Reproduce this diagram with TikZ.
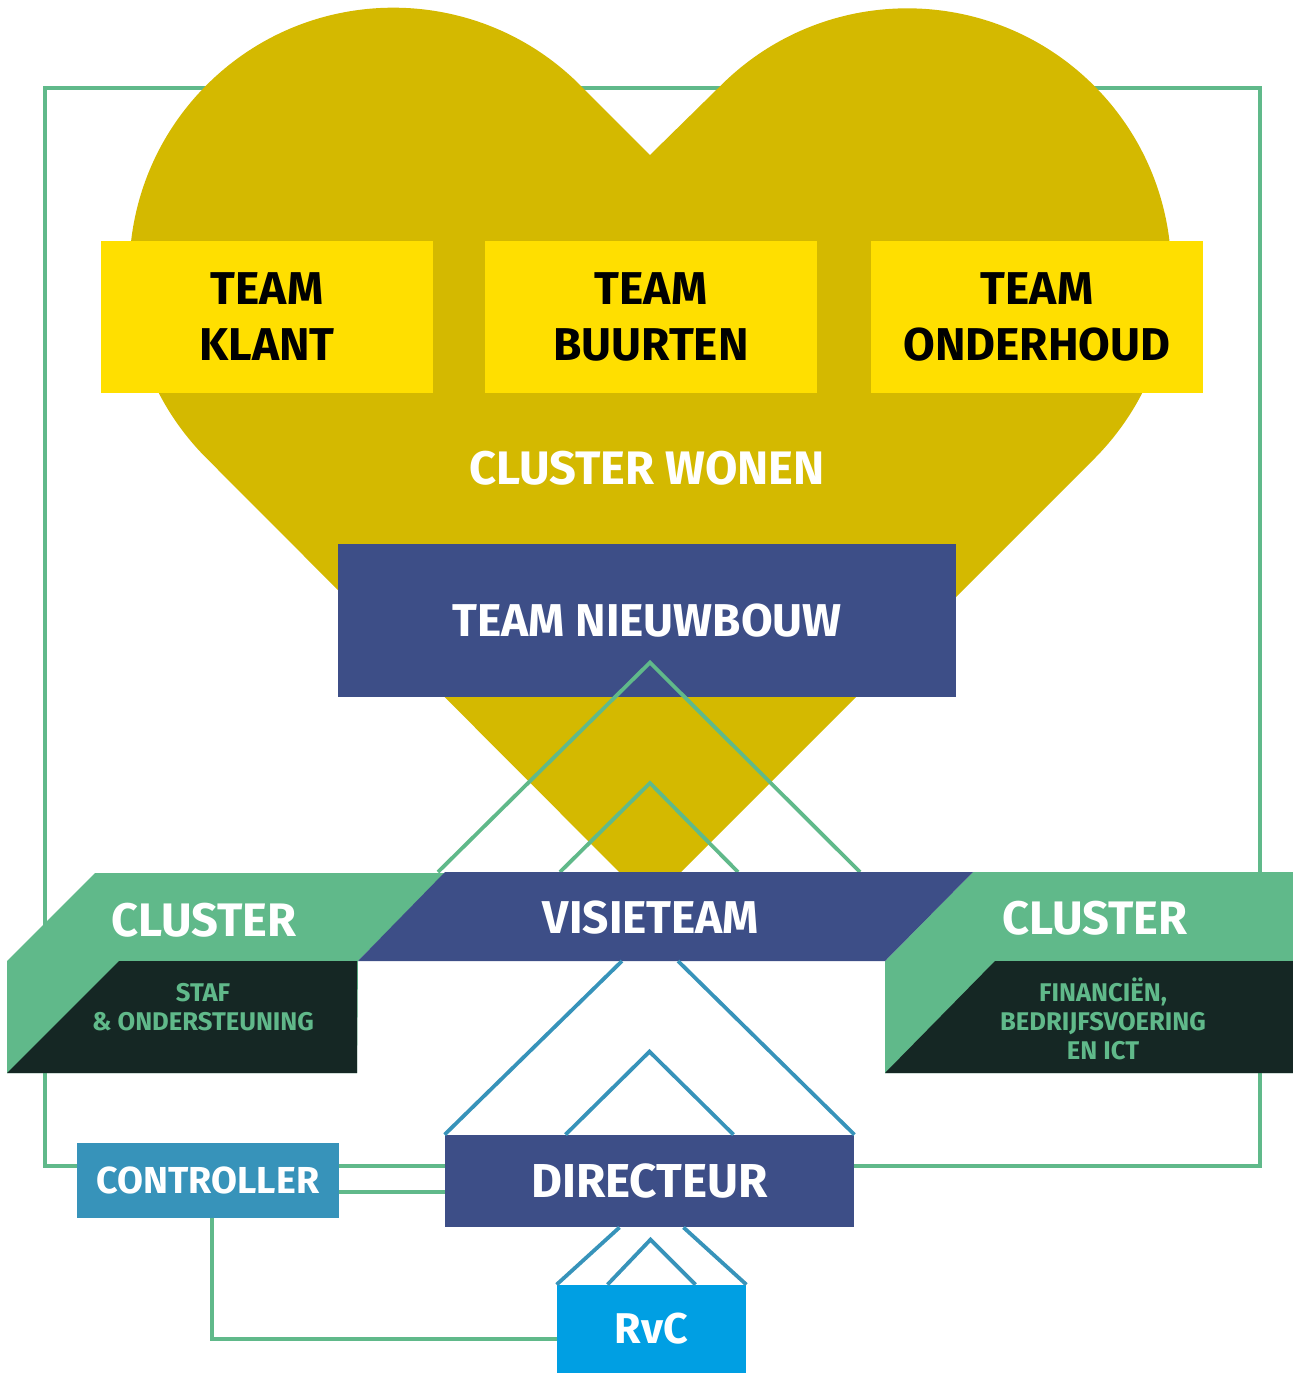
\documentclass[tikz,border=0pt]{standalone}
\usepackage{fontspec}
\setmainfont{Fira Sans}
\definecolor{heartyellow}{RGB}{212,185,0}
\definecolor{teamyellow}{RGB}{255,223,0}
\definecolor{navy}{RGB}{61,78,135}
\definecolor{clustergreen}{RGB}{96,185,138}
\definecolor{darkgreen}{RGB}{21,39,36}
\definecolor{lineblue}{RGB}{55,147,186}
\definecolor{rvcblue}{RGB}{0,159,227}
\tikzset{
  box/.style={rectangle, inner sep=0pt, align=center},
  teambox/.style={box, fill=teamyellow, text=black, minimum width=166pt, minimum height=76pt,
    font=\fontsize{23}{28}\selectfont\bfseries},
  navybox/.style={box, fill=navy, text=white, font=\fontsize{23}{28}\selectfont\bfseries},
  headtxt/.style={text=white, font=\fontsize{23.5}{28}\selectfont\bfseries},
  subtxt/.style={align=center, text=clustergreen, font=\fontsize{12.8}{14.5}\selectfont\bfseries},
  greenlink/.style={draw=clustergreen, line width=1.9pt},
  bluelink/.style={draw=lineblue, line width=1.9pt},
}

\begin{document}
\begin{tikzpicture}[x=0.5pt,y=-0.5pt]
\useasboundingbox (0,0) rectangle (1293,1373);

% bottom row boxes
\node[navybox, minimum width=204.5pt, minimum height=46pt, font=\fontsize{23.8}{28}\selectfont\bfseries] (directeur) at (649.5,1181) {DIRECTEUR};
\node[box, fill=lineblue, text=white, minimum width=131pt, minimum height=37.5pt, font=\fontsize{18.8}{24}\selectfont\bfseries] (controller) at (208,1180.5) {CONTROLLER};
\node[box, fill=rvcblue, text=white, minimum width=94.5pt, minimum height=44pt, font=\fontsize{21.5}{24}\selectfont\bfseries] (rvc) at (651.5,1329) {RvC};

\coordinate (toprow) at (0,1166);
\coordinate (lowrow) at (0,1192);

% outer loop, runs behind the heart and the clusters
\draw[greenlink] (controller.west |- toprow) -| (45,88) -| (1260,1166) -- (directeur.east |- toprow);
\draw[greenlink] (controller.east |- toprow) -- (directeur.west |- toprow);
\draw[greenlink] (controller.east |- lowrow) -- (directeur.west |- lowrow);
\draw[greenlink] ([xshift=2pt]controller.south) |- ([yshift=-5pt]rvc.west);

% heart
\fill[heartyellow] (650,155) -- (580,85) arc[start angle=-45, end angle=-225, radius=264]
  -- (650,903) -- (1094,459) arc[start angle=45, end angle=-135, radius=264] -- cycle;

\node[teambox] (klant) at (267,317) {TEAM\\KLANT};
\node[teambox] (buurten) at (651,317) {TEAM\\BUURTEN};
\node[teambox] (onderhoud) at (1037,317) {TEAM\\ONDERHOUD};
\node[text=white, font=\fontsize{23.5}{28}\selectfont\bfseries] (wonen) at (647,468) {CLUSTER WONEN};

\node[navybox, minimum width=309pt, minimum height=76.5pt] (nieuwbouw) at (647,620.5) {TEAM NIEUWBOUW};

% chevrons up into the heart
\coordinate (visietop) at (650,872);
\coordinate (visiebot) at (650,961);
\draw[greenlink] ([xshift=-106pt]visietop) -- ([xshift=1.5pt,yshift=-21pt]nieuwbouw.center) -- ([xshift=105pt]visietop);
\draw[greenlink] ([xshift=-45pt]visietop) -- ++(90,-89) -- ++(88,89);

% clusters left and right of the visieteam band
\fill[clustergreen] (95,873) -- (445,873) -- (358,961) -- (357,1073) -- (7,1073) -- (7,961) -- cycle;
\fill[darkgreen] (119,961) -- (357,961) -- (357,1073) -- (7,1073) -- cycle;
\fill[clustergreen] (973,872) -- (1293,872) -- (1293,1073) -- (885,1073) -- (885,961) -- cycle;
\fill[darkgreen] (995,961) -- (1293,961) -- (1293,1073) -- (885,1073) -- cycle;
\fill[navy] (445,872) -- (973,872) -- (885,961) -- (358,961) -- cycle;

\node[headtxt] (stafhead) at (204,920) {CLUSTER};
\node[subtxt] (staf) at (203,1007) {STAF\\\& ONDERSTEUNING};
\node[headtxt] (finhead) at (1095,918) {CLUSTER};
\node[subtxt] (fin) at (1103,1019) {FINANCIËN,\\BEDRIJFSVOERING\\EN ICT};
\node[text=white, font=\fontsize{23}{28}\selectfont\bfseries] (visie) at (651,918) {VISIETEAM};

% visieteam down to directeur
\draw[bluelink] ([xshift=-14pt]visiebot) -- (directeur.north west);
\draw[bluelink] ([xshift=14pt]visiebot) -- (directeur.north east);
\draw[bluelink] ([xshift=-42pt]directeur.north) -- ++(84,-83) -- ++(84,83);

% directeur down to rvc
\draw[bluelink] ([xshift=-15pt]directeur.south) -- (rvc.north west);
\draw[bluelink] ([xshift=17pt]directeur.south) -- (rvc.north east);
\draw[bluelink] ([xshift=-22pt]rvc.north) -- ++(43,-45) -- ++(45,45);

\end{tikzpicture}
\end{document}
